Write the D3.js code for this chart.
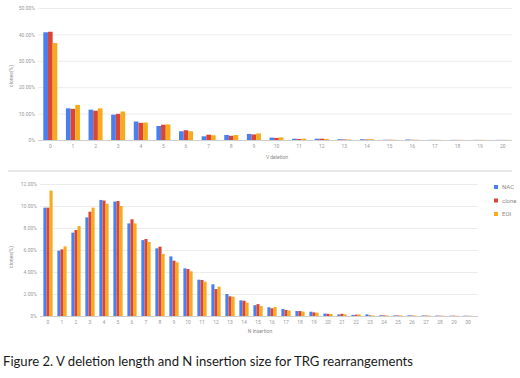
<!DOCTYPE html>
<html>
<head>
<meta charset="utf-8">
<script src="https://cdn.jsdelivr.net/npm/d3@7"></script>
<style>
  body { margin: 0; background: #fff; }
  svg { display: block; }
  .tick text { fill: #9a9a9a; font-family: Roboto, "Liberation Sans", sans-serif; }
</style>
</head>
<body>
<div id="chart"></div>
<script>
// series names + colours
var seriesNames = ["NAC", "clone", "EOI"];
var colors = ["#4a80ee", "#dc4535", "#f5ab1c"];

// V deletion length, 0..20 (clones %)
var vdelCats = d3.range(0, 21).map(String);
var vdelNAC   = [40.8, 12.0, 11.5, 9.6, 7.0, 5.3, 3.3, 1.4, 1.9, 2.3, 0.9, 0.5, 0.5, 0.3, 0.3, 0.1, 0.2, 0.05, 0.05, 0.05, 0.05];
var vdelClone = [41.0, 11.8, 11.1, 9.9, 6.5, 5.8, 3.7, 2.0, 1.6, 2.1, 0.8, 0.4, 0.5, 0.2, 0.2, 0.1, 0.1, 0.05, 0.05, 0.05, 0.05];
var vdelEOI   = [36.7, 13.3, 12.0, 10.8, 6.6, 5.9, 3.3, 1.8, 1.9, 2.5, 1.0, 0.5, 0.4, 0.2, 0.3, 0.1, 0.1, 0.05, 0.05, 0.05, 0.05];
var vdelTicks = [0, 10, 20, 30, 40, 50];

// N insertion size, 0..30 (clones %)
var ninsCats = d3.range(0, 31).map(String);
var ninsNAC   = [9.85, 5.94, 7.58, 8.97, 10.55, 10.4, 8.42, 6.9, 6.15, 5.42, 4.33, 3.3, 2.88, 2.0, 1.42, 0.98, 0.79, 0.64, 0.45, 0.39, 0.22, 0.15, 0.1, 0.15, 0.07, 0.06, 0.06, 0.05, 0.04, 0.03, 0.03];
var ninsClone = [9.85, 6.06, 7.82, 9.48, 10.5, 10.45, 8.79, 7.0, 6.3, 5.03, 4.27, 3.27, 2.45, 1.79, 1.39, 1.08, 0.7, 0.55, 0.45, 0.33, 0.2, 0.2, 0.12, 0.06, 0.06, 0.05, 0.05, 0.04, 0.03, 0.03, 0.02];
var ninsEOI   = [11.4, 6.33, 8.18, 9.85, 10.2, 10.0, 8.42, 6.73, 5.64, 4.88, 4.06, 3.12, 2.67, 1.76, 1.21, 0.9, 0.82, 0.5, 0.4, 0.3, 0.18, 0.15, 0.15, 0.05, 0.05, 0.05, 0.04, 0.04, 0.03, 0.02, 0.02];
var ninsTicks = [0, 2, 4, 6, 8, 10, 12];

var svg = d3.select("#chart").append("svg")
  .attr("width", 520)
  .attr("height", 378);

function fmtPct(d) {
  return d === 0 ? "0%" : d.toFixed(2) + "%";
}

function drawPanel(opt) {
  var g = svg.append("g");

  var x = d3.scaleBand()
    .domain(opt.cats)
    .range([opt.x0, opt.x1])
    .paddingInner(opt.pad)
    .paddingOuter(opt.pad / 2);

  var xs = d3.scaleBand()
    .domain(d3.range(3))
    .range([0, x.bandwidth()]);

  var y = d3.scaleLinear()
    .domain([0, d3.max(opt.ticks)])
    .range([opt.y0, opt.y1]);

  // gridlines
  g.append("g")
    .selectAll("line")
    .data(opt.ticks)
    .enter()
    .append("line")
    .attr("x1", opt.gx0)
    .attr("x2", opt.gx1)
    .attr("y1", function (d) { return y(d) + 0.5; })
    .attr("y2", function (d) { return y(d) + 0.5; })
    .attr("stroke", function (d) { return d === 0 ? "#cfcfcf" : "#ececec"; })
    .attr("stroke-width", 1);

  // y axis labels
  var yAxis = d3.axisLeft(y).tickValues(opt.ticks).tickFormat(fmtPct).tickSize(0).tickPadding(3);
  var ya = g.append("g")
    .attr("transform", "translate(" + opt.gx0 + ",0)")
    .call(yAxis);
  ya.select(".domain").remove();
  ya.selectAll("text").style("font-size", "5px");

  // bars
  var series = opt.series;
  var groups = g.append("g")
    .selectAll("g")
    .data(opt.cats)
    .enter()
    .append("g")
    .attr("transform", function (d) { return "translate(" + x(d) + ",0)"; });

  groups.selectAll("rect")
    .data(function (d, i) {
      return series.map(function (s, k) { return { k: k, v: s[i] }; });
    })
    .enter()
    .append("rect")
    .attr("x", function (d) { return xs(d.k); })
    .attr("width", xs.bandwidth())
    .attr("y", function (d) { return y(d.v); })
    .attr("height", function (d) { return y(0) - y(d.v); })
    .attr("fill", function (d) { return colors[d.k]; });

  // x axis labels
  var xAxis = d3.axisBottom(x).tickSize(0).tickPadding(4);
  var xa = g.append("g")
    .attr("transform", "translate(0," + opt.y0 + ")")
    .call(xAxis);
  xa.select(".domain").remove();
  xa.selectAll("text").style("font-size", "5px");

  // axis titles
  g.append("text")
    .attr("x", opt.xtX)
    .attr("y", opt.xtY)
    .attr("text-anchor", "middle")
    .attr("fill", "#8a8a8a")
    .style("font-family", "Roboto, 'Liberation Sans', sans-serif")
    .style("font-size", "5px")
    .text(opt.xTitle);

  g.append("text")
    .attr("transform", "translate(" + opt.ytX + "," + opt.ytY + ") rotate(-90)")
    .attr("text-anchor", "middle")
    .attr("fill", "#8a8a8a")
    .style("font-family", "Roboto, 'Liberation Sans', sans-serif")
    .style("font-size", "5px")
    .text("clones(%)");
}

drawPanel({
  cats: vdelCats,
  series: [vdelNAC, vdelClone, vdelEOI],
  ticks: vdelTicks,
  x0: 39, x1: 514, pad: 0.38,
  gx0: 38, gx1: 512,
  y0: 140, y1: 8,
  xTitle: "V deletion", xtX: 277, xtY: 159,
  ytX: 13, ytY: 76
});

// divider between the two charts
svg.append("line")
  .attr("x1", 8).attr("x2", 512)
  .attr("y1", 171).attr("y2", 171)
  .attr("stroke", "#e2e2e2")
  .attr("stroke-width", 1.5);

drawPanel({
  cats: ninsCats,
  series: [ninsNAC, ninsClone, ninsEOI],
  ticks: ninsTicks,
  x0: 41, x1: 475, pad: 0.34,
  gx0: 40, gx1: 478,
  y0: 316, y1: 184,
  xTitle: "N insertion", xtX: 260, xtY: 333,
  ytX: 13, ytY: 257
});

// legend
var legend = svg.append("g")
  .selectAll("g")
  .data(seriesNames)
  .enter()
  .append("g")
  .attr("transform", function (d, i) { return "translate(494," + (185 + i * 13.5) + ")"; });

legend.append("rect")
  .attr("width", 4)
  .attr("height", 4)
  .attr("fill", function (d, i) { return colors[i]; });

legend.append("text")
  .attr("x", 8)
  .attr("y", 4)
  .attr("fill", "#8a8a8a")
  .style("font-family", "Roboto, 'Liberation Sans', sans-serif")
  .style("font-size", "6px")
  .text(function (d) { return d; });

// caption
svg.append("text")
  .attr("x", 3)
  .attr("y", 366)
  .attr("textLength", 410)
  .attr("lengthAdjust", "spacingAndGlyphs")
  .attr("fill", "#1a1a1a")
  .style("font-family", "Lato, 'Open Sans', sans-serif")
  .style("font-size", "14px")
  .text("Figure 2. V deletion length and N insertion size for TRG rearrangements");
</script>
</body>
</html>
